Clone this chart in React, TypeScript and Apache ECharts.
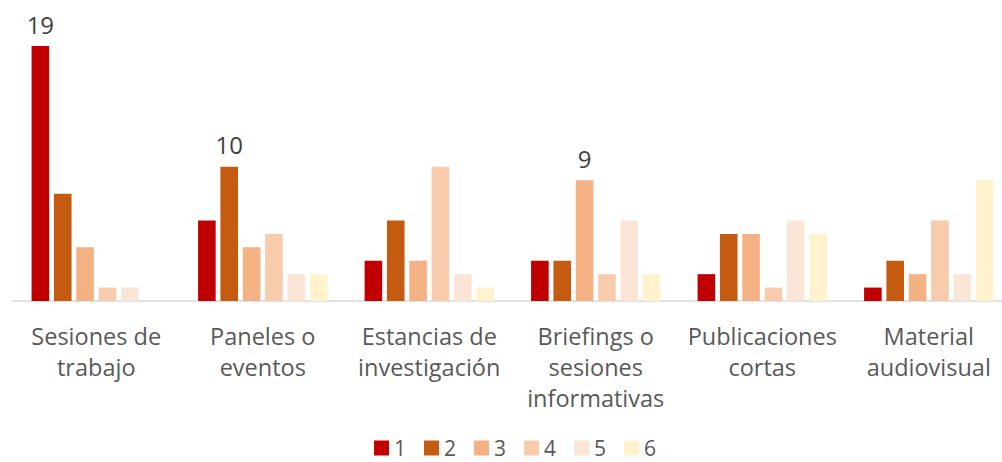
import React, { useEffect, useRef } from "react";
import * as echarts from "echarts";

const categories = [
  "Sesiones de\ntrabajo",
  "Paneles o\neventos",
  "Estancias de\ninvestigación",
  "Briefings o\nsesiones\ninformativas",
  "Publicaciones\ncortas",
  "Material\naudiovisual",
];
const seriesNames = ["1", "2", "3", "4", "5", "6"];
const colors = ["#C00000", "#C55A11", "#F4B183", "#F8CBAD", "#FBE5D6", "#FFF2CC"];
const s1 = [19, 6, 3, 3, 2, 1];
const s2 = [8, 10, 6, 3, 5, 3];
const s3 = [4, 4, 3, 9, 5, 2];
const s4 = [1, 5, 10, 2, 1, 6];
const s5 = [1, 2, 2, 6, 6, 2];
const s6 = [0, 2, 1, 2, 5, 9];
const seriesValues = [s1, s2, s3, s4, s5, s6];
// [seriesIndex, categoryIndex] of bars whose value is printed
const labelled = [
  [0, 0],
  [1, 1],
  [2, 3],
];

export default function App() {
  const ref = useRef<HTMLDivElement>(null);
  useEffect(() => {
    if (!ref.current) return;
    const chart = echarts.init(ref.current, null, { renderer: "svg" });
    const font = "'Open Sans', 'Noto Sans', sans-serif";
    chart.setOption({
      animation: false,
      textStyle: { fontFamily: font },
      grid: { left: 13, width: 999, top: 32.6, height: 268.4, containLabel: false },
      legend: {
        left: 369,
        top: 432,
        icon: "rect",
        itemWidth: 15,
        itemHeight: 15,
        itemGap: 18,
        textStyle: { fontSize: 21, lineHeight: 22, color: "#595959", fontFamily: font },
        data: seriesNames,
      },
      xAxis: {
        type: "category",
        data: categories,
        axisLine: { lineStyle: { color: "#D9D9D9", width: 1.5 } },
        axisTick: { show: false },
        axisLabel: {
          interval: 0,
          margin: 19,
          fontSize: 23.5,
          lineHeight: 31,
          color: "#595959",
          fontFamily: font,
        },
      },
      yAxis: { type: "value", min: 0, max: 20, show: false, splitLine: { show: false } },
      series: seriesValues.map((vals, si) => ({
        name: seriesNames[si],
        type: "bar",
        barWidth: 17.6,
        barGap: "27%",
        itemStyle: { color: colors[si] },
        label: {
          show: false,
          position: "top",
          distance: 10,
          fontSize: 24,
          color: "#404040",
          fontFamily: font,
        },
        data: vals.map((v, ci) =>
          labelled.some(([a, b]) => a === si && b === ci)
            ? { value: v, label: { show: true } }
            : v
        ),
      })),
    });
    return () => chart.dispose();
  }, []);
  return (
    <div
      style={{
        position: "absolute",
        left: 0,
        top: 0,
        width: 1002,
        height: 462,
        overflow: "hidden",
      }}
    >
      <div ref={ref} style={{ width: 1014, height: 462 }} />
    </div>
  );
}
